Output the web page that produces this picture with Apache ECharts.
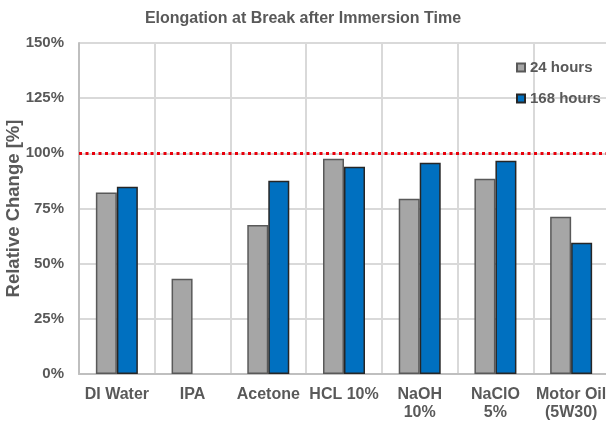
<!DOCTYPE html>
<html>
  <head>
    <meta charset="UTF-8" />
    <title>Elongation at Break</title>
    <script src="https://cdn.jsdelivr.net/npm/echarts@6.0.0/dist/echarts.min.js"></script>
  </head>
  <body style="margin: 0">
    <div id="chart" style="width: 606px; height: 423px"></div>
  </body>
  <script>
    const categories = ["DI Water", "IPA", "Acetone", "HCL 10%", "NaOH\n10%", "NaClO\n5%", "Motor Oil\n(5W30)"];
    const hours24 = [82.3, 43.2, 67.5, 97.6, 79.4, 88.5, 71.3];
    const hours168 = [84.9, null, 87.6, 93.9, 95.7, 96.6, 59.5];
    const yTicks = [0, 25, 50, 75, 100, 125, 150];
    const referenceLine = 100;

    const font = "'Liberation Sans', Arial, sans-serif";
    const textGray = "#595959";

    let myChart = echarts.init(document.getElementById("chart"));

    myChart.setOption({
      animation: false,
      title: {
        text: "Elongation at Break after Immersion Time",
        left: "center",
        top: 6,
        textStyle: { fontFamily: font, fontSize: 16, fontWeight: "bold", color: textGray },
      },
      legend: {
        orient: "vertical",
        left: 511,
        top: 55,
        itemWidth: 8,
        itemHeight: 8,
        itemGap: 16,
        icon: "rect",
        textStyle: { fontFamily: font, fontSize: 15, fontWeight: "bold", color: textGray },
        data: ["24 hours", "168 hours"],
      },
      grid: { left: 79, right: -3, top: 43, bottom: 49, outerBoundsMode: "none" },
      xAxis: {
        type: "category",
        data: categories,
        axisTick: { show: false },
        axisLine: { lineStyle: { color: "#bfbfbf", width: 2 } },
        splitLine: { show: true, lineStyle: { color: "#d9d9d9", width: 2 } },
        axisLabel: {
          fontFamily: font,
          fontSize: 16,
          fontWeight: "bold",
          color: textGray,
          margin: 12,
          lineHeight: 18,
          interval: 0,
        },
      },
      yAxis: {
        type: "value",
        min: yTicks[0],
        max: yTicks[yTicks.length - 1],
        interval: 25,
        name: "Relative Change [%]",
        nameLocation: "middle",
        nameGap: 56,
        nameMoveOverlap: false,
        nameTextStyle: { fontFamily: font, fontSize: 18.5, fontWeight: "bold", color: textGray },
        axisLine: { show: true, lineStyle: { color: "#bfbfbf", width: 2 } },
        axisTick: { show: false },
        splitLine: { lineStyle: { color: "#d9d9d9", width: 2 } },
        axisLabel: {
          fontFamily: font,
          fontSize: 15,
          fontWeight: "bold",
          color: textGray,
          margin: 15,
          formatter: "{value}%",
        },
      },
      series: [
        {
          name: "24 hours",
          type: "bar",
          data: hours24,
          barWidth: 21,
          barGap: "0%",
          itemStyle: { color: "#a6a6a6", borderColor: "#595959", borderWidth: 1.5 },
          markLine: {
            silent: true,
            symbol: "none",
            label: { show: false },
            lineStyle: { color: "#e8000b", type: [3, 3.5], width: 3 },
            data: [{ yAxis: referenceLine }],
          },
        },
        {
          name: "168 hours",
          type: "bar",
          data: hours168,
          barWidth: 21,
          itemStyle: { color: "#0070c0", borderColor: "#262626", borderWidth: 1.5 },
        },
      ],
    });
  </script>
</html>
